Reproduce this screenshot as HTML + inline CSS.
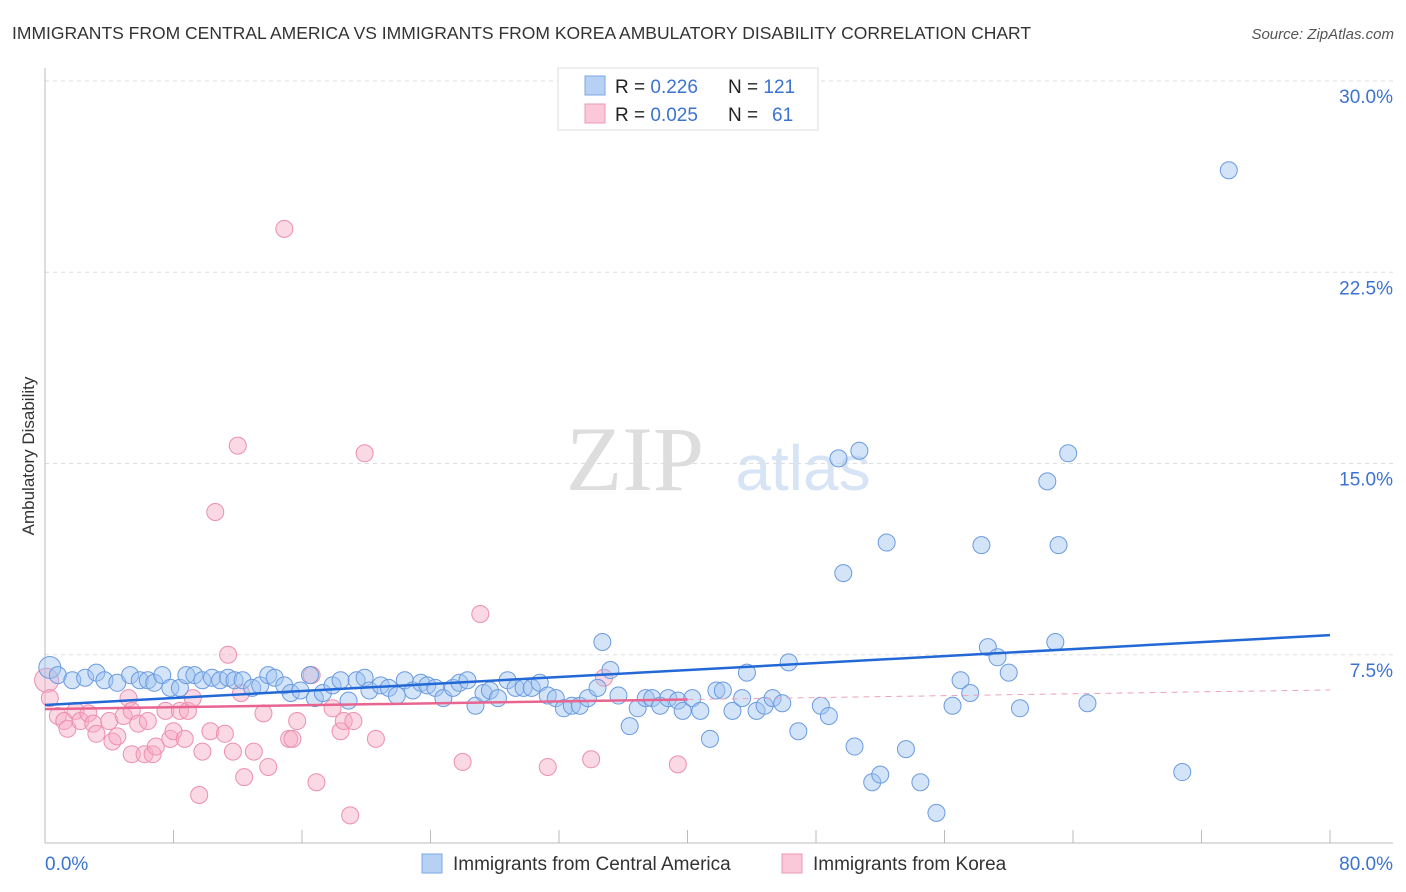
<!DOCTYPE html>
<html><head><meta charset="utf-8"><style>
body{margin:0;background:#fff;font-family:"Liberation Sans",sans-serif;}
#wrap{position:relative;width:1406px;height:892px;overflow:hidden;}
</style></head><body>
<div id="wrap">
<svg id="chart" width="1406" height="892">
<text x="12" y="39" font-size="17.5" fill="#333">IMMIGRANTS FROM CENTRAL AMERICA VS IMMIGRANTS FROM KOREA AMBULATORY DISABILITY CORRELATION CHART</text>
<text x="1394" y="39" font-size="15" fill="#555" font-style="italic" text-anchor="end">Source: ZipAtlas.com</text>
<text x="34" y="456" font-size="17" fill="#333" text-anchor="middle" transform="rotate(-90 34 456)">Ambulatory Disability</text>
<g><text x="635" y="490" font-size="92" fill="#ddd" font-family="Liberation Serif,serif" text-anchor="middle">ZIP</text><text x="803" y="490" font-size="64" fill="#d6e4f5" text-anchor="middle">atlas</text></g>
<g id="grid"></g><g id="axes"></g><g id="pts"></g><g id="lines"></g>
<g>
<rect x="558" y="68" width="260" height="62" fill="#fff" stroke="#ddd"/>
<rect x="585" y="76" width="20" height="19" fill="#b7d1f5" stroke="#7ea6e6"/>
<rect x="585" y="104" width="20" height="19" fill="#fac8d8" stroke="#ec9ab5"/>
<text x="615" y="93" font-size="19" fill="#222">R = <tspan fill="#3b73d1">0.226</tspan><tspan x="728">N = </tspan><tspan fill="#3b73d1">121</tspan></text>
<text x="615" y="121" font-size="19" fill="#222">R = <tspan fill="#3b73d1">0.025</tspan><tspan x="728">N = </tspan><tspan x="772" fill="#3b73d1">61</tspan></text>
</g>
<g>
<rect x="422" y="854" width="20" height="19" fill="#b7d1f5" stroke="#7ea6e6"/>
<text x="453" y="870" font-size="19" fill="#333">Immigrants from Central America</text>
<rect x="782" y="854" width="20" height="19" fill="#fac8d8" stroke="#ec9ab5"/>
<text x="813" y="870" font-size="19" fill="#333">Immigrants from Korea</text>
</g>
<text x="45" y="870" font-size="19" fill="#3b73d1">0.0%</text>
<text x="1393" y="870" font-size="19" fill="#3b73d1" text-anchor="end">80.0%</text>
</svg>
</div>
<script>
const yTicks=[7.5,15,22.5,30];
const yTickLabels=["7.5%","15.0%","22.5%","30.0%"];
const xTicks=[0,8,16,24,32,40,48,56,64,72,80];
const blueX=[0.3,0.8,1.7,2.5,3.2,3.7,4.5,5.3,5.9,6.4,6.8,7.3,7.8,8.4,8.8,9.3,9.8,10.4,10.9,11.4,11.8,12.3,12.9,13.4,13.9,14.3,14.9,15.3,15.9,16.5,16.8,17.3,17.9,18.4,18.9,19.4,19.9,20.2,20.9,21.4,21.9,22.4,22.9,23.4,23.8,24.3,24.8,25.4,25.8,26.3,26.8,27.3,27.7,28.2,28.8,29.3,29.8,30.3,30.8,31.3,31.8,32.3,32.8,33.3,33.8,34.4,34.7,35.2,35.7,36.4,36.9,37.4,37.8,38.3,38.8,39.4,39.7,40.3,40.8,41.4,41.8,42.2,42.8,43.4,43.7,44.3,44.8,45.3,45.9,46.3,46.9,48.3,48.8,49.4,49.7,50.4,50.7,51.5,52.0,52.4,53.6,54.5,55.5,56.5,57.0,57.6,58.3,58.7,59.3,60.0,60.7,62.4,62.9,63.1,63.7,64.9,70.8,73.7];
const blueY=[7.0,6.7,6.5,6.6,6.8,6.5,6.4,6.7,6.5,6.5,6.4,6.7,6.2,6.2,6.7,6.7,6.5,6.6,6.5,6.6,6.5,6.5,6.2,6.3,6.7,6.6,6.3,6.0,6.1,6.7,5.8,6.0,6.3,6.5,5.7,6.5,6.6,6.1,6.3,6.2,5.9,6.5,6.1,6.4,6.3,6.2,5.8,6.2,6.4,6.5,5.5,6.0,6.1,5.8,6.5,6.2,6.2,6.2,6.4,5.9,5.8,5.4,5.5,5.5,5.8,6.2,8.0,6.9,5.9,4.7,5.4,5.8,5.8,5.5,5.8,5.7,5.3,5.8,5.3,4.2,6.1,6.1,5.3,5.8,6.8,5.3,5.5,5.8,5.6,7.2,4.5,5.5,5.1,15.2,10.7,3.9,15.5,2.5,2.8,11.9,3.8,2.5,1.3,5.5,6.5,6.0,11.8,7.8,7.4,6.8,5.4,14.3,8.0,11.8,15.4,5.6,2.9,26.5];
const pinkX=[0.1,0.3,0.8,1.2,1.4,1.9,2.2,2.7,3.0,3.2,4.0,4.2,4.5,4.9,5.2,5.4,5.4,5.8,6.2,6.4,6.7,6.9,7.5,7.8,8.0,8.4,8.7,8.9,9.2,9.6,9.8,10.3,10.6,11.2,11.4,11.7,12.0,12.4,13.0,13.6,13.9,14.9,15.2,15.4,15.7,16.6,16.9,17.9,18.4,18.6,19.0,19.2,19.9,20.6,26.0,27.1,31.3,34.0,39.4,12.2,34.8];
const pinkY=[6.5,5.8,5.1,4.9,4.6,5.3,4.9,5.2,4.8,4.4,4.9,4.1,4.3,5.1,5.8,5.3,3.6,4.8,3.6,4.9,3.6,3.9,5.3,4.2,4.5,5.3,4.2,5.3,5.8,2.0,3.7,4.5,13.1,4.4,7.5,3.7,15.7,2.7,3.7,5.2,3.1,24.2,4.2,4.2,4.9,6.7,2.5,5.4,4.5,4.9,1.2,4.9,15.4,4.2,3.3,9.1,3.1,3.4,3.2,6.0,6.6];
const blueTrend=[5.53,8.27];
const pinkTrend=[5.37,6.12];
const NS="http://www.w3.org/2000/svg";
const X0=45,X1=1330,YB=846,YS=25.5;
function sx(v){return X0+(v/80)*(X1-X0);}
function sy(v){return YB-v*YS;}
function mk(tag,attrs,parent){const e=document.createElementNS(NS,tag);for(const k in attrs)e.setAttribute(k,attrs[k]);parent.appendChild(e);return e;}
const grid=document.getElementById('grid'),axes=document.getElementById('axes'),pts=document.getElementById('pts'),lines=document.getElementById('lines');
yTicks.forEach((t,i)=>{
 const l=mk('line',{x1:45,x2:1393,y1:sy(t),y2:sy(t),stroke:'#ddd','stroke-dasharray':'4,4'},grid);
 
 
 const tx=mk('text',{x:1393,y:sy(t)+22,'font-size':19,fill:'#3b73d1','text-anchor':'end'},grid);
 tx.textContent=yTickLabels[i];
 
 
});
let ax=mk('line',{x1:45,x2:45,y1:68,y2:843,stroke:'#bbb'},axes);


ax=mk('line',{x1:45,x2:1393,y1:843,y2:843,stroke:'#bbb'},axes);


xTicks.forEach(t=>{
 const l=mk('line',{x1:sx(t),x2:sx(t),y1:830,y2:843,stroke:'#bbb'},axes);
 
 
});
pinkX.forEach((v,i)=>{
 const c=mk('circle',{cx:sx(v),cy:sy(pinkY[i]),r:(i==0?12:8.5),fill:'rgba(246,170,195,0.45)',stroke:'#ec8fae','stroke-width':1},pts);
 
 
});
blueX.forEach((v,i)=>{
 const c=mk('circle',{cx:sx(v),cy:sy(blueY[i]),r:(i==0?11:8.5),fill:'rgba(160,195,240,0.45)',stroke:'#6a9be0','stroke-width':1},pts);
 
 
});
let tl=mk('line',{x1:sx(0),y1:sy(blueTrend[0]),x2:sx(80),y2:sy(blueTrend[1]),stroke:'#2268d6','stroke-width':2.5},lines);


const pm=pinkTrend[0]+(pinkTrend[1]-pinkTrend[0])*0.5;
tl=mk('line',{x1:sx(0),y1:sy(pinkTrend[0]),x2:sx(40),y2:sy(pm),stroke:'#e86590','stroke-width':2.5},lines);


tl=mk('line',{x1:sx(40),y1:sy(pm),x2:sx(80),y2:sy(pinkTrend[1]),stroke:'#eaa3ba','stroke-width':1,'stroke-dasharray':'6,5'},lines);


</script>
</body></html>
